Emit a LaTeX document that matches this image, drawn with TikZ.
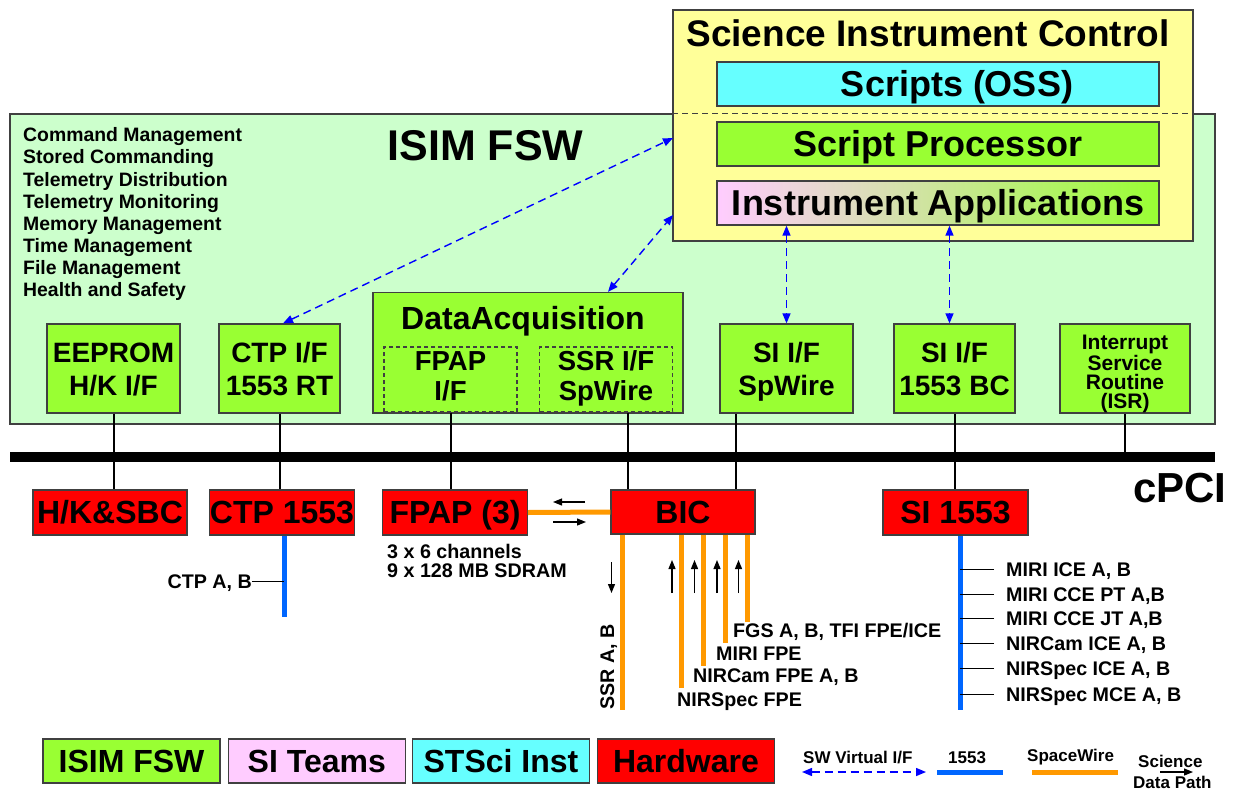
\documentclass[tikz,border=0pt]{standalone}
\usepackage{fontspec}
\setmainfont{Liberation Sans}
\usepackage{tikz}
\usetikzlibrary{positioning, calc, arrows.meta}
\usepackage{xcolor}
\definecolor{fswgreen}{HTML}{99FF33}
\definecolor{bggreen}{HTML}{CCFFCC}
\definecolor{sicyellow}{HTML}{FFFF99}
\definecolor{osscyan}{HTML}{66FFFF}
\definecolor{sipink}{HTML}{FFCCFF}
\definecolor{hwred}{HTML}{FF0000}
\definecolor{spworange}{HTML}{FF9900}
\definecolor{busblue}{HTML}{0066FF}
\definecolor{swblue}{HTML}{0000FF}
\newcommand{\fsz}[2]{\fontsize{#1}{#2}\selectfont\bfseries}
\tikzset{box/.style={draw=black!75, line width=1.3pt, inner sep=0pt, align=center}}
\tikzset{fswbox/.style={box, fill=fswgreen}}
\tikzstyle{twoline}=[font=\fsz{28}{33}, text height=53pt, text depth=0pt]
\tikzstyle{subbox}=[fswbox, dash pattern=on 4pt off 3pt, minimum width=133pt, minimum height=65pt, font=\fsz{27.5}{30}, text height=45pt, text depth=4pt]
\tikzstyle{hwbox}=[box, fill=hwred, minimum height=45pt, font=\fsz{32}{38}, text height=22.9pt, text depth=0pt]
\tikzstyle{sicbox}=[box, minimum width=442pt, minimum height=44pt, font=\fsz{36}{40}, text height=25.8pt, text depth=0pt]
\tikzstyle{legbox}=[box, minimum width=177pt, minimum height=44pt, font=\fsz{32}{38}, text height=22.9pt, text depth=0pt]
\tikzstyle{lbl}=[inner sep=0pt, font=\fsz{19.7}{22}]
\tikzstyle{leglbl}=[inner sep=0pt, anchor=base west, font=\fsz{17}{20}]
\tikzstyle{swvi}=[swblue, line width=1.4pt, dash pattern=on 8pt off 5pt, {Triangle[length=10pt,width=8pt]}-{Triangle[length=10pt,width=8pt]}]
\tikzstyle{bus1553}=[busblue, line width=5pt]
\tikzstyle{spw}=[spworange, line width=5pt]
\tikzstyle{sdp}=[-{Triangle[length=9pt,width=7pt]}, line width=1.2pt]
\tikzstyle{link}=[line width=2pt]

\begin{document}
\begin{tikzpicture}[x=1pt, y=-1pt]
  \useasboundingbox (0,0) rectangle (1233,792);
  \fill[white] (0,0) rectangle (1233,792);

  % ISIM FSW
  \node[box, fill=bggreen, minimum width=1205pt, minimum height=310pt] (isim) at (612.5,269) {};
  \node[anchor=base, inner sep=0pt, font=\fsz{43}{48}] (isimlbl) at (485.5,160) {ISIM FSW};
  \node[lbl, anchor=base west, align=left, font=\fsz{19.4}{22.14}] (services) at (23,296.7)
    {Command Management\\Stored Commanding\\Telemetry Distribution\\Telemetry Monitoring\\
     Memory Management\\Time Management\\File Management\\Health and Safety};

  % Science Instrument Control
  \node[box, fill=sicyellow, minimum width=520pt, minimum height=231pt] (sic) at (933,125.5) {};
  \draw[black!75, line width=1.2pt, dash pattern=on 6pt off 4pt] (sic.west |- isim.north) -- (sic.east |- isim.north);
  \node[anchor=base, inner sep=0pt, font=\fsz{37}{40}] (siclbl) at (928,46.5) {Science Instrument Control};
  \node[sicbox, fill=osscyan] (oss) at (938,84) {};
  \node[inner sep=0pt, font=\fsz{36}{40}, text height=25.8pt, text depth=0pt] (osslbl) at (957,84) {Scripts (OSS)};
  \node[sicbox, fill=fswgreen] (sp) at (938,144) {Script Processor};
  \node[sicbox, left color=sipink, right color=fswgreen] (ia) at (938,203) {Instrument Applications};

  % FSW components
  \node[fswbox, twoline, minimum width=133pt, minimum height=89pt] (eeprom) at (113.5,368.5) {EEPROM\\H/K I/F};
  \node[fswbox, twoline, minimum width=121pt, minimum height=89pt] (ctpif) at (279.5,368.5) {CTP I/F\\1553 RT};
  \node[fswbox, minimum width=310pt, minimum height=120.5pt] (daq) at (528,352.75) {};
  \node[anchor=base, inner sep=0pt, font=\fsz{32}{36}] (daqlbl) at (523,329) {DataAcquisition};
  \node[subbox] (fpapif) at (450.5,379.5) {FPAP\\I/F};
  \node[subbox] (ssrif) at (606,379.5) {SSR I/F\\SpWire};
  \node[fswbox, twoline, minimum width=133pt, minimum height=89pt] (sispw) at (786.5,368.5) {SI I/F\\SpWire};
  \node[fswbox, twoline, minimum width=121pt, minimum height=89pt] (sibc) at (954.5,368.5) {SI I/F\\1553 BC};
  \node[fswbox, minimum width=130pt, minimum height=89pt, font=\fsz{21}{19}, text height=80pt, text depth=1pt] (isr) at (1125,368.5) {Interrupt\\Service\\Routine\\(ISR)};

  % cPCI bus
  \coordinate (busW) at (10,456.7);
  \coordinate (busE) at (1215,456.7);
  \draw[line width=10pt] (busW) -- (busE);
  \node[anchor=base west, inner sep=0pt, font=\fsz{42}{46}] (cpci) at (1133,502) {cPCI};

  % hardware
  \node[hwbox, minimum width=154pt] (hksbc) at (110,512.5) {H/K\&SBC};
  \node[hwbox, minimum width=145pt] (ctp) at (282,512.5) {CTP 1553};
  \node[hwbox, minimum width=144.5pt] (fpap) at (455,512.5) {FPAP (3)};
  \node[hwbox, minimum width=144pt, minimum height=44pt] (bic) at (683,512) {BIC};
  \node[hwbox, minimum width=145pt] (si1553) at (955.5,512.5) {SI 1553};

  \coordinate (ssrtap) at ([xshift=22pt]ssrif.south);
  \coordinate (sispwtap) at ([xshift=-50.5pt]sispw.south);
  \draw[link] (eeprom.south) -- (eeprom.south |- hksbc.north);
  \draw[link] (ctpif.south) -- (ctpif.south |- ctp.north);
  \draw[link] (fpapif.south) -- (fpapif.south |- fpap.north);
  \draw[link] (ssrtap) -- (ssrtap |- bic.north);
  \draw[link] (sispwtap) -- (sispwtap |- bic.north);
  \draw[link] (sibc.south) -- (sibc.south |- si1553.north);
  \draw[link] (isr.south) -- (isr.south |- busE);

  % SpaceWire
  \draw[spw] (fpap.east) -- (bic.west);
  \coordinate (ssrab) at (622,710);
  \coordinate (nirspecfpe) at (681,688);
  \coordinate (nircamfpe) at (703,666);
  \coordinate (mirifpe) at (725,643);
  \coordinate (fgsfpe) at (747.5,622);
  \foreach \tap in {ssrab, nirspecfpe, nircamfpe, mirifpe, fgsfpe}
    \draw[spw] (\tap |- bic.south) -- (\tap);
  \node[lbl, rotate=90, anchor=base west] (ssrlbl) at (614,710) {SSR A, B};
  \node[lbl, anchor=base west] (fgslbl) at (733,637) {FGS A, B, TFI FPE/ICE};
  \node[lbl, anchor=base west] (mirilbl) at (716,660) {MIRI FPE};
  \node[lbl, anchor=base west] (nircamlbl) at (693,682) {NIRCam FPE A, B};
  \node[lbl, anchor=base west] (nirspeclbl) at (677,706) {NIRSpec FPE};
  \node[lbl, anchor=base west, align=left, font=\fsz{19.7}{19}] (fpapinfo) at (387,577) {3 x 6 channels\\9 x 128 MB SDRAM};

  % science data path
  \draw[sdp] (585,502) -- (553,502);
  \draw[sdp] (553,522) -- (586,522);
  \draw[sdp] (611.5,562) -- (611.5,593);
  \foreach \x in {672,694.5,717,738.5}
    \draw[sdp] (\x,593) -- (\x,560);

  % 1553
  \coordinate (ctpbusend) at (284,617);
  \draw[bus1553] (ctpbusend |- ctp.south) -- (ctpbusend);
  \node[lbl, anchor=east, text height=14pt, text depth=0pt] (ctpab) at (252,581.5) {CTP A, B};
  \draw[line width=1pt] (ctpab.east) -- (ctpab.east -| ctpbusend);
  \coordinate (sibusend) at (960,710);
  \draw[bus1553] (sibusend |- si1553.south) -- (sibusend);
  \foreach \y/\txt [count=\k] in {569/{MIRI ICE A, B}, 594/{MIRI CCE PT A,B}, 618/{MIRI CCE JT A,B},
      643/{NIRCam ICE A, B}, 668/{NIRSpec ICE A, B}, 694/{NIRSpec MCE A, B}} {
    \node[lbl, anchor=west, text height=14pt, text depth=0pt] (si\k) at (1006,\y) {\txt};
    \draw[line width=1pt] ([xshift=-12pt]si\k.west) -- (si\k.west -| sibusend);
  }

  % SW virtual I/F
  \coordinate (sicctp) at (673,138);
  \coordinate (sicdaq) at (673,215);
  \coordinate (sibctop) at ([xshift=-5pt]sibc.north);
  \draw[swvi] ([xshift=3.5pt]ctpif.north) -- (sicctp);
  \draw[swvi] ([xshift=80pt]daq.north) -- (sicdaq);
  \draw[swvi] (ia.south -| sispw.north) -- (sispw.north);
  \draw[swvi] (ia.south -| sibctop) -- (sibctop);

  % legend
  \node[legbox, fill=fswgreen] (legfsw) at (131.5,761) {ISIM FSW};
  \node[legbox, fill=sipink] (legsi) at (316.75,761) {SI Teams};
  \node[legbox, fill=osscyan] (legstsci) at (501,761) {STSci Inst};
  \node[legbox, fill=hwred] (leghw) at (686,761) {Hardware};
  \node[leglbl] (legswlbl) at (803,763) {SW Virtual I/F};
  \coordinate (legswW) at (802,772);
  \coordinate (legswE) at (926,772);
  \draw[swvi] (legswW) -- (legswE);
  \node[leglbl] (leg1553lbl) at (948,763) {1553};
  \coordinate (leg1553W) at (937,772);
  \coordinate (leg1553E) at (1003,772);
  \draw[bus1553] (leg1553W) -- (leg1553E);
  \node[leglbl] (legspwlbl) at (1027,761) {SpaceWire};
  \coordinate (legspwW) at (1032,772);
  \coordinate (legspwE) at (1118,772);
  \draw[spw] (legspwW) -- (legspwE);
  \node[leglbl] (legscilbl) at (1138,767) {Science};
  \node[leglbl] (legdatalbl) at (1133,788) {Data Path};
  \coordinate (legsdpW) at (1160,772);
  \coordinate (legsdpE) at (1193,772);
  \draw[sdp] (legsdpW) -- (legsdpE);

\end{tikzpicture}
\end{document}
